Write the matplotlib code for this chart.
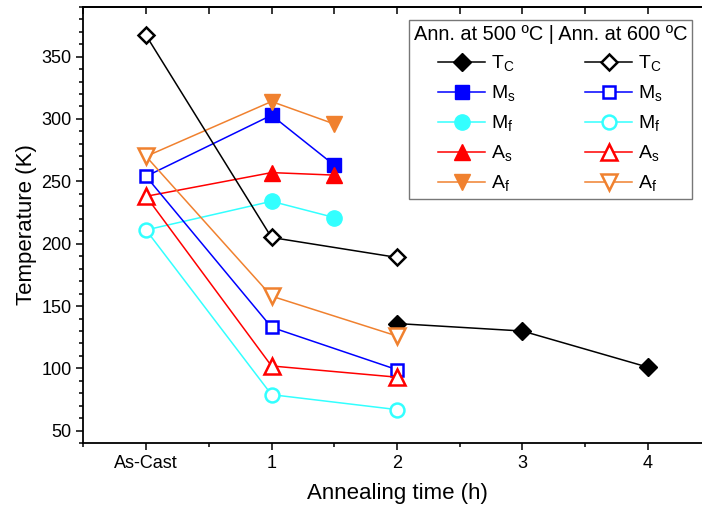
import matplotlib
matplotlib.use("Agg")
import matplotlib.pyplot as plt
from matplotlib.ticker import MultipleLocator

plt.rcParams["font.family"] = ["Liberation Sans", "DejaVu Sans"]
plt.rcParams["mathtext.fontset"] = "custom"
plt.rcParams["mathtext.rm"] = "Liberation Sans"

# tick labels of the x axis (As-Cast = 0)
x_ticks = [0, 1, 2, 3, 4]
x_labels = ["As-Cast", "1", "2", "3", "4"]

# annealed at 500 C (filled symbols), starting from the as-cast value
x500 = [0, 1, 1.5]
ms500 = [254, 303, 263]
mf500 = [211, 234, 221]
as500 = [238, 257, 255]
af500 = [270, 314, 296]
x500_tc = [2, 3, 4]
tc500 = [136, 130, 101]

# annealed at 600 C (open symbols)
x600 = [0, 1, 2]
tc600 = [367, 205, 189]
ms600 = [254, 133, 99]
mf600 = [211, 79, 67]
as600 = [238, 102, 93]
af600 = [270, 158, 126]

labels = [r"T$_\mathregular{C}$", r"M$_\mathregular{s}$", r"M$_\mathregular{f}$",
          r"A$_\mathregular{s}$", r"A$_\mathregular{f}$"]
colores = ["black", "#0000FF", "#33FFFF", "#FF0000", "#F0812F"]
marcadores = ["D", "s", "o", "^", "v"]
tamanhos = [9, 9.5, 11, 12, 12]

fig = plt.figure(figsize=(7.02, 5.12), dpi=100)
ax = fig.add_axes([0.1187, 0.1342, 0.8936, 0.8527])

series500 = [(x500_tc, tc500), (x500, ms500), (x500, mf500), (x500, as500), (x500, af500)]
series600 = [tc600, ms600, mf600, as600, af600]

handles = []
for (xs, ys), lab, c, m, s in zip(series500, labels, colores, marcadores, tamanhos):
    # the as-cast point is shown with the open symbol only
    cada = None if xs[0] != 0 else list(range(1, len(xs)))
    h, = ax.plot(xs, ys, color=c, marker=m, ms=s, mfc=c, mec=c, mew=1, lw=1.1,
                 label=lab, markevery=cada, zorder=3)
    handles.append(h)
for ys, lab, c, m, s in zip(series600, labels, colores, marcadores, tamanhos):
    h, = ax.plot(x600, ys, color=c, marker=m, ms=s - 1, mfc="white", mec=c, mew=1.8,
                 lw=1.1, label=lab, zorder=4)
    handles.append(h)

ax.set_xlim(-0.5, 4.5)
ax.set_ylim(40, 390)
ax.set_xticks(x_ticks)
ax.set_xticklabels(x_labels)
ax.xaxis.set_minor_locator(MultipleLocator(0.5))
ax.yaxis.set_major_locator(MultipleLocator(50))
ax.yaxis.set_minor_locator(MultipleLocator(10))
ax.tick_params(which="major", direction="out", length=5, width=1.1, labelsize=13)
ax.tick_params(which="minor", direction="out", length=3, width=1.1)
for sp in ax.spines.values():
    sp.set_linewidth(1.3)

top = ax.secondary_xaxis("top")
top.set_xticks(x_ticks)
top.xaxis.set_minor_locator(MultipleLocator(0.5))
top.tick_params(which="both", direction="in", length=5, width=1.1, labeltop=False)
top.spines["top"].set_linewidth(1.3)

ax.set_xlabel("Annealing time (h)", fontsize=16, labelpad=8)
ax.set_ylabel("Temperature (K)", fontsize=16, labelpad=3)

leg = ax.legend(handles=handles, ncol=2, loc="upper right",
                bbox_to_anchor=(692 / 702, 1 - 20 / 512), bbox_transform=fig.transFigure,
                borderaxespad=0, title="Ann. at 500 ºC | Ann. at 600 ºC",
                fontsize=14, title_fontsize=14.4, fancybox=False, framealpha=1,
                edgecolor="#777777", handlelength=2.4, handletextpad=0.3,
                columnspacing=3.6, labelspacing=0.5, borderpad=0.25)
leg.get_frame().set_linewidth(1.0)

fig.savefig("out.png", dpi=100)
